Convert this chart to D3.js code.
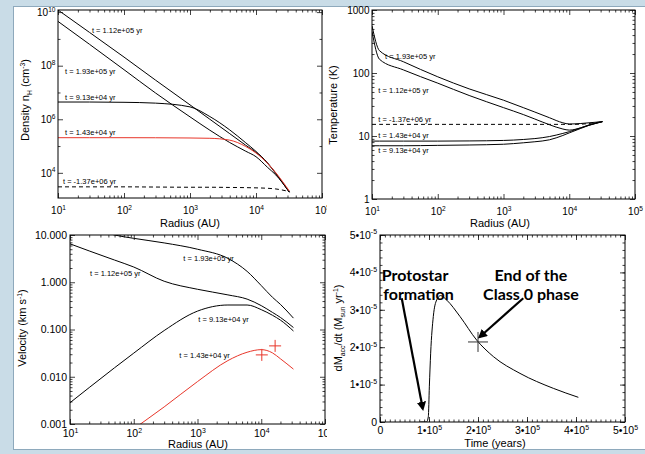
<!DOCTYPE html>
<html>
<head>
<meta charset="utf-8">
<script src="https://cdn.jsdelivr.net/npm/d3@7/dist/d3.min.js"></script>
<style>
  body { margin: 0; background: #c9dce7; }
  svg { display: block; font-family: "Liberation Sans", Arial, Helvetica, sans-serif; }
</style>
</head>
<body>
<div id="chart-area"></div>
<script>
/* values */

// series names (shared by the radial panels)
var labelT112 = "t = 1.12e+05 yr",
    labelT193 = "t = 1.93e+05 yr",
    labelT913 = "t = 9.13e+04 yr",
    labelT143 = "t = 1.43e+04 yr",
    labelInit = "t = -1.37e+06 yr";

// density n_H (cm^-3)
var densRadius = [10, 30, 100, 300, 1000, 2000, 4000, 7000, 10000, 15000, 20000, 32000];
var dens112 = [1.2e10, 1.75e9, 2.1e8, 2.9e7, 3.45e6, 1.0e6, 2.9e5, 1.07e5, 5.8e4, 2.25e4, 9.3e3, 1.9e3];
var dens193 = [4.5e9, 6.3e8, 7.1e7, 9.6e6, 1.23e6, 3.9e5, 1.35e5, 6.4e4, 4.0e4, 1.59e4, 8.3e3, 1.9e3];
var dens913 = [4.4e6, 4.4e6, 4.3e6, 4.0e6, 2.9e6, 1.26e6, 4.0e5, 1.32e5, 6.3e4, 2.35e4, 9.6e3, 1.9e3];
var dens143 = [2.05e5, 2.05e5, 2.05e5, 2.04e5, 2.0e5, 1.95e5, 1.66e5, 9.6e4, 5.5e4, 2.25e4, 1.0e4, 2.1e3];
var densInit = [3.0e3, 3.0e3, 3.0e3, 2.95e3, 2.9e3, 2.9e3, 2.85e3, 2.8e3, 2.75e3, 2.65e3, 2.5e3, 2.0e3];

// temperature (K)
var tempRadius = [10, 13, 30, 100, 300, 1000, 2000, 3000, 5000, 8000, 10000, 15000, 20000, 32000];
var temp193 = [562, 226, 151, 87, 56, 37, 28.2, 24, 19.5, 16.2, 15.5, 15.8, 16.2, 16.9];
var temp112 = [457, 165, 112, 69, 44, 28.2, 21.9, 18.6, 15.1, 12.9, 12.4, 13.5, 14.8, 16.9];
var tempInit = [15.3, 15.3, 15.3, 15.3, 15.3, 15.3, 15.3, 15.3, 15.3, 15.3, 15.3, 15.4, 15.8, 16.9];
var temp143 = [8.3, 8.3, 8.3, 8.3, 8.35, 8.5, 8.8, 9.1, 9.8, 11.0, 11.7, 13.5, 15.0, 16.9];
var temp913 = [7.0, 7.0, 7.0, 7.1, 7.2, 7.4, 7.8, 8.1, 8.7, 10.2, 11.2, 13.2, 14.8, 16.9];

// velocity (km/s)
var velRadius = [10, 20, 50, 100, 300, 1000, 3000, 6000, 10000, 15000, 20000, 32000];
var vel193 = [19, 14.5, 10, 8.5, 6.8, 5.0, 3.2, 1.7, 0.85, 0.48, 0.34, 0.174];
var vel112 = [6.5, 4.6, 2.95, 2.1, 1.05, 0.71, 0.54, 0.44, 0.32, 0.23, 0.18, 0.11];
var vel913 = [0.00282, 0.0059, 0.0155, 0.0316, 0.095, 0.245, 0.33, 0.33, 0.263, 0.2, 0.158, 0.093];
var vel143 = [7.9e-5, 1.6e-4, 4.0e-4, 7.9e-4, 2.3e-3, 7.9e-3, 0.022, 0.033, 0.0375, 0.032, 0.024, 0.0145];
var velObsRadius = [10200, 16500];
var velObs = [0.029, 0.045];

// accretion rate (Msun/yr) vs time (yr)
var accTime = [0.82e5, 0.95e5, 0.986e5, 1.007e5, 1.034e5, 1.088e5, 1.156e5, 1.238e5, 1.361e5, 1.633e5, 1.973e5, 2.313e5, 2.857e5, 3.537e5, 4.048e5];
var accRate = [0, 0, 0.14e-5, 0.94e-5, 1.84e-5, 2.82e-5, 3.26e-5, 3.38e-5, 3.26e-5, 2.82e-5, 2.19e-5, 1.75e-5, 1.30e-5, 0.90e-5, 0.66e-5];
var classEnd = [2.0e5, 2.14e-5];

// tick values
var radiusTicks = [1e1, 1e2, 1e3, 1e4, 1e5];
var radiusTickText = [["10", "1"], ["10", "2"], ["10", "3"], ["10", "4"], ["10", "5"]];
var densTicks = [1e4, 1e6, 1e8, 1e10];
var densTickText = [["10", "4"], ["10", "6"], ["10", "8"], ["10", "10"]];
var tempTicks = [1, 10, 100, 1000];
var tempTickText = [["1"], ["10"], ["100"], ["1000"]];
var velTicks = [0.001, 0.01, 0.1, 1, 10];
var velTickText = [["0.001"], ["0.010"], ["0.100"], ["1.000"], ["10.000"]];
var timeTicks = [0, 1e5, 2e5, 3e5, 4e5, 5e5];
var timeTickText = [["0"], ["1\u202210", "5"], ["2\u202210", "5"], ["3\u202210", "5"], ["4\u202210", "5"], ["5\u202210", "5"]];
var rateTicks = [0, 1e-5, 2e-5, 3e-5, 4e-5, 5e-5];
var rateTickText = [["0"], ["1\u202210", "-5"], ["2\u202210", "-5"], ["3\u202210", "-5"], ["4\u202210", "-5"], ["5\u202210", "-5"]];

/* ---------------------------------------------------------------- */

var svg = d3.select("#chart-area").append("svg")
    .attr("width", 645)
    .attr("height", 454);

// slide backdrop
svg.append("rect").attr("width", 645).attr("height", 454).attr("fill", "#c9dce7");
svg.append("rect")
    .attr("x", 13.5).attr("y", 6.5).attr("width", 640).attr("height", 443)
    .attr("fill", "#fff").attr("stroke", "#8ea9bc");

var defs = svg.append("defs");
defs.append("marker")
    .attr("id", "arrow").attr("viewBox", "0 0 10 10")
    .attr("refX", 7).attr("refY", 5)
    .attr("markerWidth", 4.2).attr("markerHeight", 4.2)
    .attr("orient", "auto")
    .append("path").attr("d", "M0,0L10,5L0,10z").attr("fill", "#000");
defs.append("clipPath").attr("id", "leftcol")
    .append("rect").attr("width", 327).attr("height", 454);

var clipN = 0;

function logMinors(lo, hi) {
    var out = [];
    for (var e = lo; e < hi; e++)
        for (var k = 2; k <= 9; k++) out.push(k * Math.pow(10, e));
    return out;
}

function makePanel(parent, left, top, w, h, x, y) {
    x.range([0, w]);
    y.range([h, 0]);
    var g = parent.append("g").attr("transform", "translate(" + left + "," + top + ")");
    var id = "plotclip" + (clipN++);
    g.append("clipPath").attr("id", id)
        .append("rect").attr("width", w).attr("height", h);
    var plot = g.append("g").attr("clip-path", "url(#" + id + ")");
    return { g: g, plot: plot, x: x, y: y, w: w, h: h };
}

// IDL-style box: ticks pointing inward on all four sides
function frame(p, xMaj, xMin, yMaj, yMin) {
    var sides = [
        [d3.axisBottom, p.x, "translate(0," + p.h + ")", xMaj, xMin],
        [d3.axisTop, p.x, null, xMaj, xMin],
        [d3.axisLeft, p.y, null, yMaj, yMin],
        [d3.axisRight, p.y, "translate(" + p.w + ",0)", yMaj, yMin]
    ];
    sides.forEach(function (s) {
        [[s[3], 5], [s[4], 2.5]].forEach(function (t) {
            var ag = p.g.append("g").attr("transform", s[2])
                .call(s[0](s[1]).tickValues(t[0]).tickSizeInner(-t[1]).tickSizeOuter(0).tickFormat(""));
            ag.select(".domain").remove();
            ag.selectAll(".tick line").attr("stroke", "#111").attr("stroke-width", 0.8);
        });
    });
    p.g.append("rect").attr("width", p.w).attr("height", p.h)
        .attr("fill", "none").attr("stroke", "#000").attr("stroke-width", 1);
}

function tickText(p, side, values, parts, pad, fs) {
    var ax = (side === "bottom" ? d3.axisBottom(p.x) : d3.axisLeft(p.y))
        .tickValues(values).tickSize(0).tickPadding(pad);
    var ag = p.g.append("g").call(ax);
    if (side === "bottom") ag.attr("transform", "translate(0," + p.h + ")");
    ag.select(".domain").remove();
    ag.attr("font-family", null).attr("font-size", fs);
    ag.selectAll(".tick text").attr("fill", "#000").each(function (d, i) {
        var t = d3.select(this).text(null);
        t.append("tspan").text(parts[i][0]);
        if (parts[i][1]) t.append("tspan")
            .attr("dy", -fs * 0.42).attr("font-size", fs * 0.66).text(parts[i][1]);
    });
    return ag;
}

function series(p, xs, ys, color, dash) {
    var line = d3.line()
        .x(function (d, i) { return p.x(xs[i]); })
        .y(function (d) { return p.y(d); })
        .curve(d3.curveMonotoneX);
    p.plot.append("path").datum(ys)
        .attr("d", line)
        .attr("fill", "none")
        .attr("stroke", color)
        .attr("stroke-width", 1)
        .attr("stroke-dasharray", dash ? "4,3" : null);
}

function seriesLabel(p, xv, yv, txt) {
    p.g.append("text")
        .attr("x", p.x(xv)).attr("y", p.y(yv))
        .attr("font-size", 7.5).attr("fill", "#000")
        .text(txt);
}

function title(x, y, rot, parts, fs) {
    var t = svg.append("text")
        .attr("transform", "translate(" + x + "," + y + ")" + (rot ? " rotate(-90)" : ""))
        .attr("text-anchor", "middle").attr("font-size", fs).attr("fill", "#000");
    parts.forEach(function (pt) {
        var s = t.append("tspan").text(pt[0]);
        if (pt[1] === "sup") s.attr("dy", -fs * 0.4).attr("font-size", fs * 0.62);
        if (pt[1] === "sub") s.attr("dy", fs * 0.25).attr("font-size", fs * 0.62);
        if (pt[1] === "back-sup") s.attr("dy", fs * 0.4);
        if (pt[1] === "back-sub") s.attr("dy", -fs * 0.25);
    });
}

var leftCol = svg.append("g").attr("clip-path", "url(#leftcol)");

/* ---- density ---- */
var pDens = makePanel(leftCol, 58, 10, 264, 188,
    d3.scaleLog().domain([10, 1e5]), d3.scaleLog().domain([1.15e3, 1.2e10]));
series(pDens, densRadius, densInit, "#000", true);
series(pDens, densRadius, dens112, "#000");
series(pDens, densRadius, dens193, "#000");
series(pDens, densRadius, dens913, "#000");
series(pDens, densRadius, dens143, "#e8362a");
frame(pDens, radiusTicks, logMinors(1, 5), densTicks, [1e5, 1e7, 1e9]);
tickText(pDens, "bottom", radiusTicks, radiusTickText, 9, 10);
tickText(pDens, "left", densTicks, densTickText, 2.5, 10);
seriesLabel(pDens, 32.7, 1.62e9, labelT112);
seriesLabel(pDens, 12.8, 5.1e7, labelT193);
seriesLabel(pDens, 12.8, 5.2e6, labelT913);
seriesLabel(pDens, 12.8, 2.58e5, labelT143);
seriesLabel(pDens, 11.9, 3.83e3, labelInit);

/* ---- temperature ---- */
var pTemp = makePanel(svg, 372, 10, 263, 189,
    d3.scaleLog().domain([10, 1e5]), d3.scaleLog().domain([1, 1000]));
series(pTemp, tempRadius, tempInit, "#000", true);
series(pTemp, tempRadius, temp193, "#000");
series(pTemp, tempRadius, temp112, "#000");
series(pTemp, tempRadius, temp143, "#000");
series(pTemp, tempRadius, temp913, "#000");
frame(pTemp, radiusTicks, logMinors(1, 5), tempTicks, logMinors(0, 3));
tickText(pTemp, "bottom", radiusTicks, radiusTickText, 9, 10);
tickText(pTemp, "left", tempTicks, tempTickText, 2.5, 10);
seriesLabel(pTemp, 15.8, 167, labelT193);
seriesLabel(pTemp, 12.5, 48.2, labelT112);
seriesLabel(pTemp, 12.5, 16.9, labelInit);
seriesLabel(pTemp, 12.5, 9.2, labelT143);
seriesLabel(pTemp, 12.5, 5.3, labelT913);

/* ---- velocity ---- */
var pVel = makePanel(leftCol, 70, 235, 255, 189,
    d3.scaleLog().domain([10, 1e5]), d3.scaleLog().domain([0.001, 10]));
series(pVel, velRadius, vel193, "#000");
series(pVel, velRadius, vel112, "#000");
series(pVel, velRadius, vel913, "#000");
series(pVel, velRadius, vel143, "#e8362a");
pVel.plot.selectAll(".obs").data(velObs).join("path")
    .attr("class", "obs")
    .attr("d", function (d, i) {
        var cx = pVel.x(velObsRadius[i]), cy = pVel.y(d);
        return "M" + (cx - 6) + "," + cy + "H" + (cx + 6) + "M" + cx + "," + (cy - 6) + "V" + (cy + 6);
    })
    .attr("stroke", "#e8362a").attr("stroke-width", 1).attr("fill", "none");
frame(pVel, radiusTicks, logMinors(1, 5), velTicks, logMinors(-3, 1));
tickText(pVel, "bottom", radiusTicks, radiusTickText, 5.5, 10.5);
tickText(pVel, "left", velTicks, velTickText, 3, 10.5);
seriesLabel(pVel, 600, 2.85, labelT193);
seriesLabel(pVel, 20.6, 1.36, labelT112);
seriesLabel(pVel, 1030, 0.146, labelT913);
seriesLabel(pVel, 519, 0.0253, labelT143);

/* ---- accretion rate ---- */
var pAcc = makePanel(svg, 380, 235, 245, 187,
    d3.scaleLinear().domain([0, 5e5]), d3.scaleLinear().domain([0, 5e-5]));
series(pAcc, accTime, accRate, "#000");
frame(pAcc, timeTicks, d3.range(0, 5e5, 1e4), rateTicks, d3.range(0, 5e-5, 2e-6));
tickText(pAcc, "bottom", timeTicks, timeTickText, 5, 10.5);
tickText(pAcc, "left", rateTicks, rateTickText, 3, 10.5);

var cx = pAcc.x(classEnd[0]), cy = pAcc.y(classEnd[1]);
pAcc.g.append("path")
    .attr("d", "M" + (cx - 10) + "," + cy + "H" + (cx + 10) + "M" + cx + "," + (cy - 10) + "V" + (cy + 10))
    .attr("stroke", "#333").attr("stroke-width", 1);

var arrows = [[0.443e5, 3.31e-5, 0.871e5, 0.366e-5], [2.924e5, 3.31e-5, 2.04e5, 2.28e-5]];
pAcc.g.selectAll(".arrow").data(arrows).join("line")
    .attr("class", "arrow")
    .attr("x1", function (d) { return pAcc.x(d[0]); })
    .attr("y1", function (d) { return pAcc.y(d[1]); })
    .attr("x2", function (d) { return pAcc.x(d[2]); })
    .attr("y2", function (d) { return pAcc.y(d[3]); })
    .attr("stroke", "#000").attr("stroke-width", 2.2)
    .attr("marker-end", "url(#arrow)");

var notes = [["Protostar", 0.035e5, 3.77e-5, "start"], ["formation", 0.065e5, 3.26e-5, "start"],
             ["End of the", 3.08e5, 3.77e-5, "middle"], ["Class 0 phase", 3.08e5, 3.26e-5, "middle"]];
pAcc.g.selectAll(".note").data(notes).join("text")
    .attr("class", "note")
    .attr("x", function (d) { return pAcc.x(d[1]); })
    .attr("y", function (d) { return pAcc.y(d[2]); })
    .attr("text-anchor", function (d) { return d[3]; })
    .attr("font-family", "Lato, 'Open Sans', sans-serif")
    .attr("font-weight", "bold").attr("font-size", 16).attr("fill", "#000")
    .text(function (d) { return d[0]; });

/* ---- axis titles ---- */
title(29, 100, true, [["Density n"], ["H", "sub"], [" (cm", "back-sub"], ["-3", "sup"], [")", "back-sup"]], 11);
title(190, 226.5, false, [["Radius (AU)"]], 11);
title(337, 105, true, [["Temperature (K)"]], 11);
title(500, 226.5, false, [["Radius (AU)"]], 11);
title(26, 328, true, [["Velocity (km s"], ["-1", "sup"], [")", "back-sup"]], 11);
title(198, 448, false, [["Radius (AU)"]], 11);
title(342, 328, true, [["dM"], ["acc", "sub"], ["/dt (M", "back-sub"], ["sun", "sub"], [" yr", "back-sub"], ["-1", "sup"], [")", "back-sup"]], 11);
title(495, 447, false, [["Time (years)"]], 11);
</script>
</body>
</html>
